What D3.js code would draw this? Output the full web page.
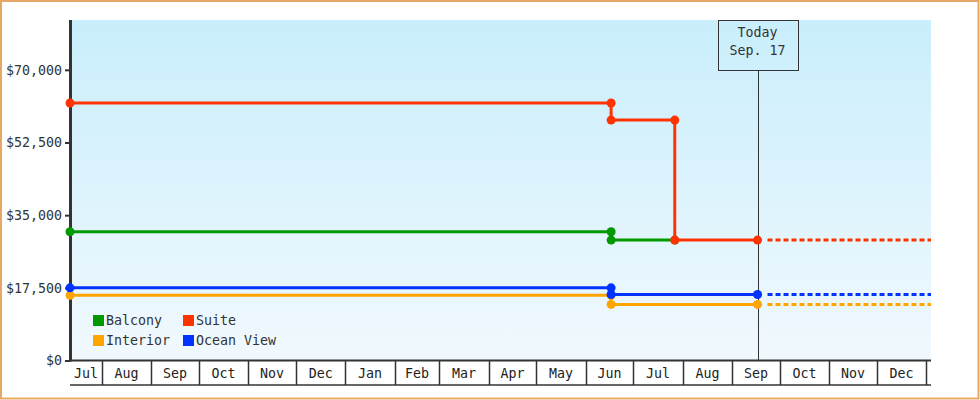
<!DOCTYPE html>
<html><head><meta charset="utf-8">
<script src="https://cdn.jsdelivr.net/npm/d3@7"></script>
<style>
html,body{margin:0;padding:0;background:#fff;}
svg{display:block;font-family:"DejaVu Sans Mono",monospace;}
</style></head><body>
<svg id="c" width="980" height="400"></svg>
<script>
// ---- data ----
const seriesNames = ["Balcony", "Suite", "Interior", "Ocean View"];
const seriesColors = ["#009900", "#ff3300", "#ffa500", "#0033ff"];
const balcony = [["2018-07-12", 31000], ["2019-06-17", 31000], ["2019-06-17", 29000], ["2019-07-27", 29000]];
const suite = [["2018-07-12", 62000], ["2019-06-17", 62000], ["2019-06-17", 57900], ["2019-07-27", 57900], ["2019-07-27", 29000], ["2019-09-17", 29000]];
const interior = [["2018-07-12", 15700], ["2019-06-17", 15700], ["2019-06-17", 13500], ["2019-09-17", 13500]];
const oceanView = [["2018-07-12", 17500], ["2019-06-17", 17500], ["2019-06-17", 15900], ["2019-09-17", 15900]];
const todayDate = "2019-09-17";
const todayLabel = ["Today", "Sep. 17"];
const projectionEnd = "2020-01-04";
const xDomain = ["2018-07-12", "2020-01-04"];
const yTicks = [0, 17500, 35000, 52500, 70000];
const yMax = 82000;
const legendRows = [["Balcony", "Suite"], ["Interior", "Ocean View"]];

// ---- chart ----
const FS = 13.3;
const parse = d3.timeParse("%Y-%m-%d");
const svg = d3.select("#c");
const L = 70, R = 931, T = 20, B = 360.5;
const x = d3.scaleTime().domain(xDomain.map(parse)).range([L, R]);
const y = d3.scaleLinear().domain([0, yMax]).range([B, T]);
const ink = "#333";

const defs = svg.append("defs");
const grad = defs.append("linearGradient").attr("id", "bg").attr("x1", 0).attr("y1", 0).attr("x2", 0).attr("y2", 1);
grad.append("stop").attr("offset", "0%").attr("stop-color", "#c9eefc");
grad.append("stop").attr("offset", "100%").attr("stop-color", "#f1f9fe");

// plot background
svg.append("rect").attr("x", L).attr("y", T).attr("width", R - L).attr("height", B - T).attr("fill", "url(#bg)");

// x axis band
const months = d3.timeMonth.range(d3.timeMonth.floor(x.domain()[0]), x.domain()[1]);
const fmtM = d3.timeFormat("%b");
const xa = svg.append("g");
months.forEach(m => {
  const s = Math.max(x(m), L), e = Math.min(x(d3.timeMonth.offset(m, 1)), R);
  if (x(m) > L) {
    xa.append("line").attr("x1", Math.round(x(m)) + 0.5).attr("x2", Math.round(x(m)) + 0.5)
      .attr("y1", B).attr("y2", 385).attr("stroke", ink).attr("stroke-width", 1.5);
  }
  if (e - s > 20) {
    xa.append("text").attr("x", (s + e) / 2).attr("y", 378).attr("text-anchor", "middle")
      .attr("font-size", FS).attr("fill", "#222").text(fmtM(m));
  }
});
xa.append("line").attr("x1", L).attr("x2", R).attr("y1", 385).attr("y2", 385).attr("stroke", ink).attr("stroke-width", 1.5);
xa.append("line").attr("x1", L).attr("x2", R).attr("y1", B).attr("y2", B).attr("stroke", ink).attr("stroke-width", 2);

// y axis
const ya = svg.append("g").attr("transform", `translate(${L},0)`)
  .call(d3.axisLeft(y).tickValues(yTicks).tickSize(5).tickPadding(3).tickFormat(d => "$" + d3.format(",")(d)));
ya.select(".domain").remove();
ya.selectAll(".tick line").attr("stroke", ink).attr("stroke-width", 2);
ya.selectAll(".tick text").attr("fill", "#333").attr("font-size", FS).attr("font-family", "DejaVu Sans Mono, monospace");
svg.append("line").attr("x1", L + 0.5).attr("x2", L + 0.5).attr("y1", T).attr("y2", B + 1).attr("stroke", ink).attr("stroke-width", 3);

// today marker
const tx = x(parse(todayDate));
svg.append("line").attr("x1", Math.round(tx) + 0.5).attr("x2", Math.round(tx) + 0.5).attr("y1", 70).attr("y2", B)
  .attr("stroke", ink).attr("stroke-width", 1);
svg.append("rect").attr("x", Math.round(tx) - 40 + 0.5).attr("y", T + 0.5).attr("width", 80).attr("height", 50)
  .attr("fill", "none").attr("stroke", ink).attr("stroke-width", 1);
todayLabel.forEach((t, i) => {
  svg.append("text").attr("x", tx).attr("y", 37 + i * 18).attr("text-anchor", "middle")
    .attr("font-size", FS).attr("fill", "#333").text(t);
});

// series
const allSeries = [balcony, suite, interior, oceanView].map((arr, i) => ({
  name: seriesNames[i], color: seriesColors[i],
  pts: arr.map(([d, v]) => ({ date: parse(d), value: v }))
}));
const line = d3.line().x(d => x(d.date)).y(d => y(d.value));
const dash = "0,10," + d3.range(30).map(() => "5,3").join(",");
const today = parse(todayDate);
allSeries.forEach(s => {
  const last = s.pts[s.pts.length - 1];
  const g = svg.append("g");
  g.append("path").attr("d", line(s.pts)).attr("fill", "none").attr("stroke", s.color).attr("stroke-width", 3);
  if (+last.date === +today) {
    g.append("path").attr("d", line([last, { date: parse(projectionEnd), value: last.value }]))
      .attr("fill", "none").attr("stroke", s.color).attr("stroke-width", 3).attr("stroke-dasharray", dash);
  }
  g.selectAll("circle").data(s.pts).join("circle")
    .attr("cx", d => x(d.date)).attr("cy", d => y(d.value)).attr("r", 4.5).attr("fill", s.color);
});

// legend
const leg = svg.append("g");
legendRows.forEach((row, r) => {
  row.forEach((name, c) => {
    const i = seriesNames.indexOf(name);
    const gx = 93 + c * 90, gy = 315 + r * 20;
    leg.append("rect").attr("x", gx).attr("y", gy).attr("width", 11).attr("height", 11).attr("fill", seriesColors[i]);
    leg.append("text").attr("x", gx + 13).attr("y", gy + 10).attr("font-size", FS).attr("fill", "#333").text(name);
  });
});

// outer border
svg.append("rect").attr("x", 1).attr("y", 1).attr("width", 977.5).attr("height", 397.5)
  .attr("fill", "none").attr("stroke", "#e8a865").attr("stroke-width", 2);
</script>
</body></html>
